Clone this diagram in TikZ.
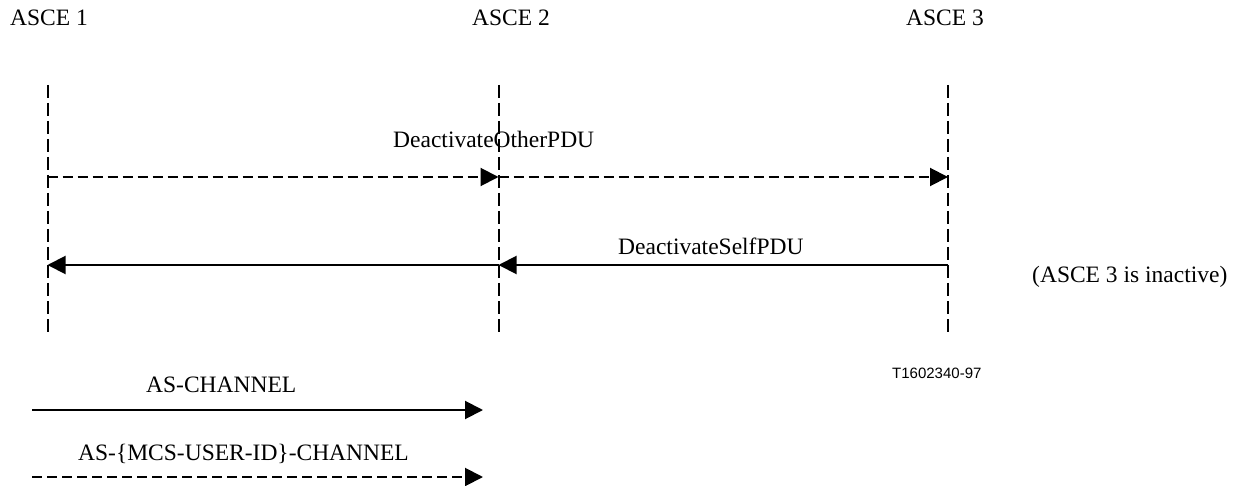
\documentclass[tikz,border=0pt]{standalone}
\usepackage{fontspec}
\setmainfont{Liberation Serif}
\newfontfamily\figsans{Liberation Sans}
\usetikzlibrary{arrows.meta}
\tikzset{
  lifeline/.style={line width=2pt, dash pattern=on 13pt off 5pt},
  msgsolid/.style={line width=2pt, -{Triangle[length=18pt,width=18pt]}},
  msgdashed/.style={line width=2pt, dash pattern=on 10pt off 5pt, -{Triangle[length=18pt,width=18pt]}},
  lbl/.style={inner sep=0pt, anchor=base west, font=\fontsize{23.5}{27}\selectfont},
  code/.style={inner sep=0pt, anchor=base west, font=\figsans\fontsize{15}{18}\selectfont}
}
\begin{document}
\begin{tikzpicture}[x=1pt,y=1pt]
\useasboundingbox (0,0) rectangle (1239,-486);
% headers
\node[lbl] (h1) at (10,-26) {ASCE 1};
\node[lbl] (h2) at (472,-26) {ASCE 2};
\node[lbl] (h3) at (906,-26) {ASCE 3};
% lifelines
\coordinate (t1) at (47.5,-85);  \coordinate (b1) at (47.5,-333);
\coordinate (t2) at (498.5,-85); \coordinate (b2) at (498.5,-333);
\coordinate (t3) at (948,-85);   \coordinate (b3) at (948,-333);
\draw[lifeline] (t1) -- (b1);
\draw[lifeline] (t2) -- (b2);
\draw[lifeline] (t3) -- (b3);
% message points
\coordinate (o1) at (47.5,-177); \coordinate (o2) at (498.5,-177); \coordinate (o3) at (948,-177);
\coordinate (s1) at (47.5,-265); \coordinate (s2) at (498.5,-265); \coordinate (s3) at (948,-265);
\draw[msgdashed] (o1) -- (o2);
\draw[msgdashed] (o2) -- (o3);
\draw[msgsolid] (s3) -- (s2);
\draw[msgsolid] (s2) -- (s1);
\node[lbl] (mo) at (393,-148) {DeactivateOtherPDU};
\node[lbl] (ms) at (618,-255) {DeactivateSelfPDU};
\node[lbl] (inact) at (1032,-283) {(ASCE 3 is inactive)};
\node[code] (ref) at (892,-378) {T1602340-97};
% legend
\node[lbl] (lg1) at (146,-392) {AS-CHANNEL};
\coordinate (la) at (32,-410); \coordinate (lb) at (483,-410);
\draw[msgsolid] (la) -- (lb);
\node[lbl] (lg2) at (78,-460) {AS-\{MCS-USER-ID\}-CHANNEL};
\coordinate (lc) at (32,-477); \coordinate (ld) at (483,-477);
\draw[msgdashed] (lc) -- (ld);
\end{tikzpicture}
\end{document}
